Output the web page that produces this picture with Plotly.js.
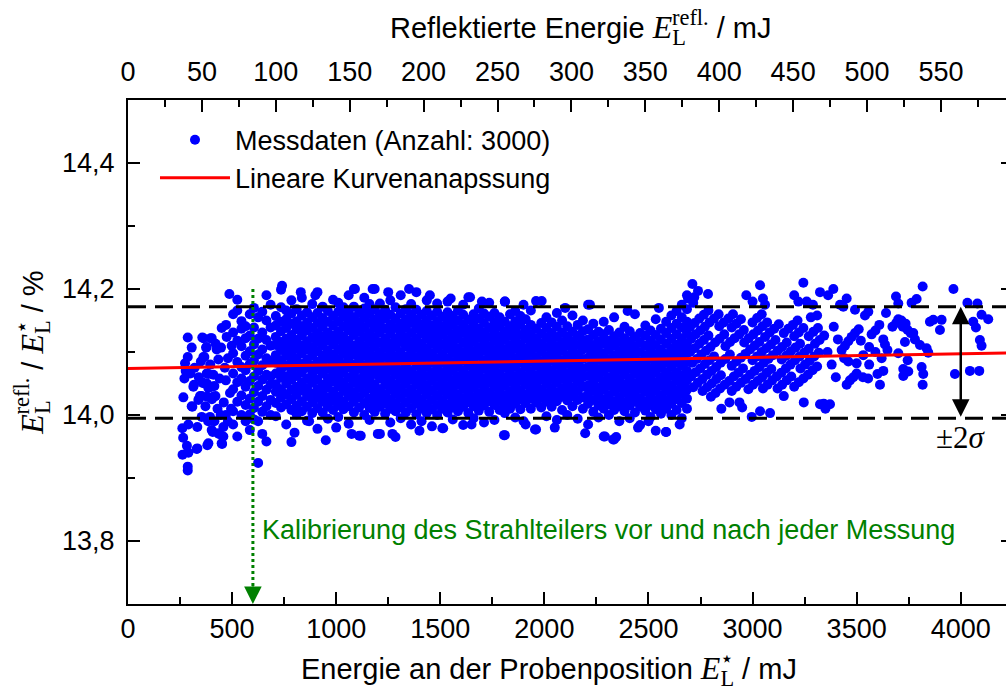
<!DOCTYPE html>
<html>
<head>
<meta charset="utf-8">
<script src="https://cdn.plot.ly/plotly-3.0.1.min.js"></script>
<style>html,body{margin:0;padding:0;overflow:hidden;background:#fff}</style>
</head>
<body>
<div id="chart" style="width:1020px;height:691px"></div>
<script>
// ---------- data ----------
const seriesName = 'Messdaten (Anzahl: 3000)';
const fitName = 'Lineare Kurvenanapssung';

// sparse left part, E* = 250..500 mJ  [E*, ratio %]
const leftPoints = [
 [262,13.937],[265,13.964],[266,14.028],[271,14.058],[274,14.082],[277,14.07],[261,13.979],[283,13.951],
 [287,13.918],[287,13.912],[287,14.092],[287,14.123],[290,13.94],[290,13.985],[306,14.107],[306,14.014],
 [309,14.013],[314,14.045],[317,14.048],[330,13.946],[333,13.981],[333,13.947],[338,14.024],[346,14.03],
 [354,13.997],[354,14.03],[357,14.123],[359,14.051],[362,14.092],[362,14.122],[367,14.05],[367,14.092],
 [372,14.014],[375,14.107],[378,14.066],[378,14.108],[379,14.05],[381,13.952],[381,14.029],[385,13.99],
 [386,13.955],[386,14.043],[386,14.065],[394,13.997],[397,14.122],[402,13.976],[402,14.122],[403,14.025],
 [404,14.045],[407,13.973],[410,14.029],[410,14.064],[415,13.99],[415,14.046],[421,14.113],[426,14.104],
 [434,14.088],[434,13.971],[437,13.97],[447,14.107],[450,13.955],[450,14.138],[452,13.954],[458,13.981],
 [458,13.966],[460,14.02],[465,14.075],[470,14.055],[471,14.143],[474,14.124],[480,14.09],[487,14.192],
 [490,14.035],[495,14.01],[498,14.11],[300,14.066],[320,14.075],[340,14.06],[350,14.085],[395,14.08],
 [420,14.03],[440,14.058],[445,14.0],[430,14.01],[470,14.0],[480,13.99]
];

// dense part, E* = 500..2700 mJ : [E*, [ratio values]]
const denseColumns = [
 [505,[13.985,14.006,14.041,14.066,14.098,14.131,14.16]],
 [525,[13.966,14.021,14.052,14.084,14.118,14.166,14.183]],
 [545,[14.0,14.031,14.058,14.076,14.109,14.137,14.149]],
 [565,[13.99,14.016,14.045,14.071,14.094,14.122,14.141]],
 [585,[13.976,14.001,14.026,14.054,14.081,14.101,14.126,14.16]],
 [605,[13.993,14.011,14.036,14.061,14.086,14.112,14.139,14.17]],
 [625,[13.924,13.99,14.021,14.046,14.07,14.096,14.121,14.155]],
 [645,[13.97,14.005,14.03,14.056,14.079,14.104,14.131,14.164]],
 [665,[13.958,14.014,14.04,14.064,14.09,14.119,14.15,14.19]],
 [685,[14.0,14.024,14.049,14.061,14.085,14.11,14.139,14.175]],
 [710,[13.998,14.019,14.037,14.049,14.066,14.083,14.095,14.111,14.124,14.142,14.157]],
 [735,[14.012,14.028,14.041,14.059,14.072,14.087,14.103,14.116,14.133,14.148,14.171,14.199]],
 [760,[13.985,14.017,14.033,14.05,14.061,14.078,14.094,14.107,14.121,14.138,14.152,14.166]],
 [785,[13.957,14.008,14.025,14.04,14.056,14.069,14.086,14.099,14.114,14.127,14.145,14.161,14.182]],
 [810,[14.001,14.015,14.032,14.045,14.062,14.077,14.09,14.105,14.119,14.136,14.149,14.168]],
 [835,[14.006,14.022,14.039,14.052,14.068,14.081,14.098,14.11,14.126,14.141,14.158,14.186]],
 [860,[13.991,14.013,14.03,14.043,14.058,14.075,14.088,14.104,14.117,14.134,14.147,14.163]],
 [885,[14.003,14.02,14.034,14.051,14.065,14.079,14.095,14.108,14.123,14.138,14.155,14.176]],
 [910,[13.978,14.011,14.027,14.041,14.056,14.072,14.085,14.101,14.116,14.13,14.146,14.162,14.195]],
 [935,[14.004,14.021,14.035,14.048,14.066,14.08,14.094,14.11,14.125,14.14,14.154,14.172]],
 [960,[13.994,14.013,14.028,14.044,14.058,14.073,14.089,14.102,14.118,14.131,14.148,14.165]],
 [985,[14.008,14.023,14.037,14.053,14.067,14.082,14.096,14.112,14.126,14.142,14.157,14.183]],
 [1010,[13.997,14.015,14.029,14.045,14.06,14.074,14.089,14.104,14.119,14.133,14.149,14.164,14.178]],
 [1035,[14.009,14.022,14.038,14.052,14.067,14.081,14.097,14.111,14.125,14.141,14.156,14.171]],
 [1060,[13.986,14.014,14.03,14.044,14.059,14.075,14.09,14.103,14.118,14.134,14.148,14.163,14.19]],
 [1085,[14.004,14.021,14.036,14.051,14.066,14.08,14.096,14.11,14.127,14.14,14.155,14.172,14.2]],
 [1110,[13.967,14.012,14.028,14.043,14.057,14.073,14.088,14.102,14.117,14.132,14.147,14.162]],
 [1135,[14.0,14.019,14.035,14.05,14.064,14.079,14.094,14.109,14.124,14.139,14.154,14.169,14.186]],
 [1160,[13.992,14.011,14.026,14.042,14.056,14.071,14.086,14.101,14.116,14.13,14.146,14.161,14.176]],
 [1185,[14.005,14.02,14.034,14.049,14.065,14.078,14.093,14.108,14.123,14.138,14.152,14.168,14.2]],
 [1210,[13.97,14.013,14.027,14.041,14.058,14.072,14.087,14.1,14.115,14.131,14.145,14.16,14.177]],
 [1235,[14.002,14.018,14.033,14.048,14.063,14.077,14.092,14.107,14.121,14.137,14.153,14.167]],
 [1260,[13.988,14.01,14.025,14.04,14.055,14.07,14.085,14.099,14.114,14.129,14.144,14.159,14.182]],
 [1285,[13.965,14.006,14.019,14.034,14.049,14.064,14.078,14.093,14.108,14.122,14.138,14.153,14.171]],
 [1310,[13.995,14.012,14.027,14.042,14.057,14.071,14.086,14.1,14.116,14.13,14.145,14.161,14.19]],
 [1335,[14.004,14.02,14.035,14.05,14.064,14.079,14.093,14.109,14.123,14.138,14.152,14.168]],
 [1360,[13.985,14.011,14.026,14.041,14.056,14.07,14.086,14.101,14.115,14.13,14.146,14.16,14.176]],
 [1385,[14.001,14.018,14.033,14.048,14.063,14.078,14.092,14.107,14.122,14.137,14.151,14.167,14.195]],
 [1410,[13.99,14.01,14.025,14.04,14.055,14.069,14.084,14.099,14.113,14.129,14.144,14.159]],
 [1435,[14.003,14.017,14.032,14.047,14.062,14.077,14.092,14.106,14.121,14.136,14.15,14.165,14.182]],
 [1460,[13.982,14.009,14.024,14.039,14.054,14.068,14.083,14.098,14.113,14.128,14.142,14.158]],
 [1485,[14.0,14.016,14.031,14.046,14.061,14.075,14.09,14.105,14.12,14.134,14.149,14.164,14.177]],
 [1510,[13.979,14.01,14.024,14.039,14.053,14.068,14.083,14.097,14.112,14.127,14.141,14.156]],
 [1535,[14.004,14.017,14.032,14.046,14.061,14.075,14.09,14.105,14.119,14.134,14.148,14.163,14.18]],
 [1560,[13.993,14.012,14.026,14.041,14.055,14.07,14.084,14.099,14.114,14.128,14.143,14.157]],
 [1585,[14.006,14.019,14.033,14.048,14.062,14.077,14.092,14.106,14.121,14.135,14.15,14.166]],
 [1610,[13.984,14.013,14.027,14.042,14.056,14.071,14.086,14.1,14.115,14.13,14.144,14.159,14.175]],
 [1635,[14.003,14.02,14.034,14.049,14.063,14.078,14.093,14.107,14.122,14.136,14.151,14.187]],
 [1660,[13.995,14.014,14.028,14.043,14.057,14.072,14.086,14.101,14.116,14.13,14.145,14.16]],
 [1685,[14.007,14.021,14.035,14.05,14.064,14.079,14.094,14.108,14.123,14.137,14.153,14.169]],
 [1710,[13.988,14.015,14.029,14.044,14.058,14.073,14.087,14.102,14.117,14.131,14.146,14.161]],
 [1735,[14.005,14.022,14.036,14.051,14.065,14.08,14.095,14.109,14.124,14.139,14.156,14.178]],
 [1760,[13.992,14.016,14.03,14.045,14.059,14.074,14.089,14.103,14.118,14.132,14.147,14.162]],
 [1785,[14.008,14.023,14.037,14.052,14.066,14.081,14.096,14.11,14.125,14.14,14.155]],
 [1810,[13.968,14.003,14.017,14.031,14.046,14.06,14.075,14.09,14.104,14.119,14.133,14.148,14.18]],
 [1835,[14.01,14.024,14.038,14.053,14.067,14.082,14.097,14.111,14.126,14.141,14.16]],
 [1860,[13.996,14.018,14.032,14.047,14.061,14.076,14.09,14.105,14.12,14.134,14.149,14.165]],
 [1885,[14.009,14.025,14.039,14.054,14.068,14.083,14.098,14.112,14.127,14.143,14.157]],
 [1910,[13.985,14.019,14.033,14.048,14.062,14.077,14.091,14.106,14.121,14.135,14.152]],
 [1935,[14.01,14.026,14.04,14.055,14.069,14.084,14.099,14.113,14.128,14.143,14.166]],
 [1960,[13.977,14.02,14.034,14.049,14.063,14.078,14.092,14.107,14.122,14.137,14.181]],
 [1985,[14.012,14.027,14.041,14.056,14.07,14.085,14.1,14.114,14.129,14.146]],
 [2010,[13.998,14.021,14.035,14.05,14.064,14.079,14.093,14.108,14.123,14.138,14.155]],
 [2035,[14.013,14.028,14.042,14.057,14.071,14.086,14.101,14.115,14.13,14.147]],
 [2060,[13.992,14.022,14.036,14.051,14.065,14.08,14.094,14.109,14.124,14.14,14.162]],
 [2085,[14.008,14.029,14.043,14.058,14.072,14.087,14.102,14.116,14.131,14.15]],
 [2110,[14.0,14.023,14.037,14.052,14.066,14.081,14.095,14.11,14.125,14.141]],
 [2135,[14.014,14.03,14.044,14.059,14.073,14.088,14.103,14.117,14.132,14.158]],
 [2160,[13.994,14.024,14.038,14.053,14.067,14.082,14.096,14.111,14.126,14.143]],
 [2185,[14.01,14.028,14.045,14.06,14.074,14.089,14.104,14.118,14.133,14.15]],
 [2210,[13.985,14.018,14.033,14.047,14.062,14.076,14.091,14.106,14.12,14.136,14.175]],
 [2235,[14.005,14.024,14.039,14.053,14.068,14.082,14.097,14.111,14.127,14.145]],
 [2260,[13.996,14.015,14.03,14.044,14.059,14.073,14.088,14.102,14.117,14.132]],
 [2285,[13.966,14.01,14.025,14.04,14.054,14.069,14.083,14.098,14.113,14.128,14.148]],
 [2310,[14.0,14.017,14.031,14.046,14.06,14.075,14.089,14.104,14.118,14.135]],
 [2335,[13.961,14.008,14.022,14.037,14.051,14.066,14.08,14.095,14.11,14.125,14.155]],
 [2360,[13.99,14.014,14.028,14.043,14.057,14.072,14.086,14.101,14.116,14.131]],
 [2385,[14.006,14.02,14.035,14.049,14.064,14.078,14.093,14.107,14.122,14.14]],
 [2410,[13.995,14.015,14.029,14.044,14.058,14.073,14.088,14.102,14.117,14.133]],
 [2435,[14.004,14.021,14.036,14.05,14.065,14.079,14.094,14.109,14.124,14.16]],
 [2460,[13.984,14.013,14.027,14.042,14.056,14.071,14.085,14.1,14.115,14.13]],
 [2485,[14.007,14.022,14.037,14.051,14.066,14.08,14.095,14.11,14.126,14.142]],
 [2510,[13.997,14.016,14.03,14.045,14.059,14.074,14.089,14.103,14.118,14.134]],
 [2535,[13.975,14.009,14.023,14.038,14.052,14.067,14.082,14.096,14.111,14.127,14.152]],
 [2560,[14.002,14.017,14.031,14.046,14.06,14.075,14.09,14.104,14.12,14.137]],
 [2585,[13.973,14.01,14.024,14.039,14.053,14.068,14.083,14.097,14.113,14.13,14.148]],
 [2610,[14.0,14.018,14.033,14.047,14.062,14.077,14.091,14.106,14.121,14.138,14.158]],
 [2635,[14.008,14.025,14.039,14.054,14.068,14.083,14.098,14.112,14.128,14.145,14.165]],
 [2660,[13.995,14.019,14.034,14.048,14.063,14.078,14.092,14.107,14.122,14.139,14.155,14.175]],
 [2685,[14.01,14.026,14.04,14.055,14.07,14.084,14.099,14.113,14.13,14.148,14.168,14.19]]
];

// striped part, E* = 2700..3450 mJ
const stripePoints = [
 [2700,14.14],[2722,14.146],[2744,14.153],[2766,14.159],[2788,14.166],
 [2705,14.121],[2727,14.128],[2749,14.134],[2771,14.14],[2793,14.147],[2815,14.153],[2837,14.16],
 [2700,14.1],[2722,14.106],[2744,14.113],[2766,14.119],[2788,14.126],[2840,14.141],[2862,14.147],[2884,14.153],[2906,14.16],
 [2710,14.083],[2732,14.089],[2754,14.096],[2776,14.102],[2798,14.108],[2820,14.115],[2842,14.121],[2864,14.128],
 [2705,14.061],[2727,14.068],[2749,14.074],[2771,14.081],[2793,14.087],[2815,14.093],[2870,14.109],[2892,14.116],[2914,14.122],[2936,14.128],[2958,14.135],
 [2715,14.044],[2737,14.051],[2759,14.057],[2781,14.064],[2803,14.07],[2825,14.076],[2847,14.083],[2869,14.089],[2891,14.096],
 [2760,14.038],[2782,14.044],[2804,14.05],[2826,14.057],[2848,14.063],[2900,14.078],[2922,14.085],[2944,14.091],[2966,14.097],[2988,14.104],[3010,14.11],[3032,14.116],
 [2800,14.029],[2822,14.035],[2844,14.042],[2866,14.048],[2888,14.054],[2910,14.061],[2932,14.067],[2954,14.074],
 [3000,14.087],[3022,14.093],[3044,14.1],[3066,14.106],[3088,14.112],[3110,14.119],
 [2900,14.038],[2922,14.045],[2944,14.051],[2966,14.057],[2988,14.064],[3010,14.07],[3032,14.076],[3054,14.083],[3076,14.089],[3098,14.095],[3120,14.102],[3142,14.108],[3164,14.115],
 [2980,14.041],[3002,14.048],[3024,14.054],[3046,14.06],[3068,14.067],[3090,14.073],[3140,14.088],[3162,14.094],[3184,14.101],[3206,14.107],[3228,14.113],
 [3050,14.042],[3072,14.048],[3094,14.055],[3116,14.061],[3138,14.067],[3160,14.074],[3182,14.08],[3204,14.087],[3226,14.093],[3248,14.099],[3270,14.105],
 [3120,14.042],[3142,14.048],[3164,14.055],[3186,14.061],[3230,14.074],[3252,14.08],[3274,14.086],[3296,14.093],[3318,14.099],
 [3200,14.045],[3222,14.052],[3244,14.058],[3266,14.064],[3288,14.071],[3310,14.077],
 [3060,14.124],[3082,14.131],[3104,14.137],[3126,14.144],[3200,14.125],[3222,14.131],[3244,14.138],
 [3150,14.13],[3172,14.137],[3194,14.143],[3216,14.15],[3270,14.125],[3292,14.132],[3314,14.138],
 [2960,14.115],[2982,14.122],[3004,14.128],[3026,14.134],[3048,14.141],[3070,14.147],
 [3000,14.147],[3022,14.154],[3044,14.16],[2900,14.139],[2922,14.145],[2944,14.152],
 [3300,14.113],[3322,14.119],[3344,14.126]
];

// sparse right part, E* = 3400..4150 mJ
const rightPoints = [
 [3420,14.175],[3436,14.172],[3452,14.185],[3492,14.167],[3428,14.103],[3444,14.11],[3460,14.117],[3476,14.124],
 [3492,14.13],[3510,14.136],[3540,14.158],[3556,14.164],[3572,14.128],[3590,14.134],[3609,14.143],[3641,14.162],
 [3452,14.048],[3468,14.055],[3484,14.06],[3500,14.066],[3440,14.09],[3460,14.085],[3500,14.082],[3532,14.095],
 [3560,14.08],[3590,14.1],[3530,14.06],[3555,14.058],[3600,14.065],[3628,14.12],[3636,14.112],[3620,14.09],
 [3648,14.103],[3612,14.048],[3628,14.07],[3560,14.108],[3520,14.118],
 [3689,14.188],[3700,14.177],[3764,14.178],[3788,14.184],[3817,14.204],[3965,14.2],[4032,14.178],[4080,14.177],
 [3672,14.14],[3690,14.146],[3700,14.152],[3715,14.15],[3722,14.14],[3735,14.145],[3745,14.135],[3760,14.13],
 [3772,14.13],[3852,14.148],[3868,14.151],[3900,14.135],[3908,14.151],[4100,14.159],[4132,14.152],[4060,14.148],
 [4073,14.139],[4092,14.119],[4100,14.11],[4044,14.07],[4089,14.07],[3972,14.065],[3732,14.116],[3804,14.111],
 [3836,14.106],[3844,14.099],[3700,14.098],[3745,14.087],[3724,14.073],[3748,14.069],[3724,14.062],[3812,14.076],
 [3820,14.065],[3817,14.048],[3780,14.12]
];

// isolated points above / below the cloud
const outlierPoints = [
 [2711,14.208],[2738,14.197],[2786,14.192],[2720,14.187],[2715,14.178],[3036,14.206],[3244,14.21],[3388,14.2],
 [3363,14.19],[2970,14.19],[3000,14.18],[3050,14.185],[3060,14.175],[3200,14.19],[3220,14.18],[3324,14.195],
 [3260,14.18],[3290,14.175],[3310,14.158],[3280,14.155],[2996,13.997],[3036,14.006],[3084,14.003],[2889,14.02],
 [2937,14.02],[3246,14.02],[3342,14.018],[3350,14.01],[3324,14.017],[3372,14.017],[2850,14.01],[2950,14.012],
 [3150,14.03],[3400,14.06],[3380,14.08],[3360,14.1],[3390,14.14],[3410,14.12],
 [1118,13.967],[1074,13.97],[1200,13.97],[1270,13.97],[1514,13.979],[1806,13.968],[1955,13.977],[2196,13.971],
 [2291,13.966],[2330,13.961],[2345,13.965],[2584,13.973],[1400,13.975],[1650,13.985],[1900,13.99],[2050,13.98],
 [2450,13.98],[2500,13.99],[2650,13.985],[1000,13.98],[950,13.96],[800,13.972],[870,13.99],
 [1090,14.2],[1175,14.2],[1643,14.187],[1811,14.18],[1987,14.181],[2219,14.175],[2690,14.185],[740,14.205],
 [830,14.195],[900,14.19],[1250,14.195],[1350,14.2],[1450,14.19],[1550,14.185],[1700,14.18],[1900,14.175],
 [2100,14.17],[2400,14.165],[2550,14.17]
];

// linear fit
const fitX = [0, 4251];
const fitY = [14.074, 14.0987];
// +/- 2 sigma limits
const sigmaLimits = [13.995, 14.172];
// calibration marker
const calibX = 600, calibTop = 14.2;
const sigmaArrowX = 4000;
const calibText = 'Kalibrierung des Strahlteilers vor und nach jeder Messung';
const sigmaText = '±2<i>σ</i>';
// axis ranges
const xRange = [0, 4251];
const ratioReflToStar = 0.14085;   // top axis = bottom axis * ratio
const yRange = [13.7, 14.5];

// ---------- build ----------
const px = [], py = [];
function addPair(p){ px.push(p[0]); py.push(p[1]); }
leftPoints.forEach(addPair);
denseColumns.forEach(c => c[1].forEach(v => { px.push(c[0]); py.push(v); }));
stripePoints.forEach(addPair);
rightPoints.forEach(addPair);
outlierPoints.forEach(addPair);

const SANS = 'Liberation Sans, Arial, sans-serif';
const SERIF = "'Liberation Serif'";
// E with stacked sub-/superscript (subscript L pulled back under the superscript)
const mathE = (sup) => `<span style="font-family:${SERIF};font-size:32px"><i>E</i><sub><span style="letter-spacing:-14px">L</span></sub><sup>${sup}</sup></span>`;

const traces = [
 {x: px, y: py, type: 'scatter', mode: 'markers', name: seriesName,
  marker: {color: '#0000ff', size: 10, line: {width: 0}}, hoverinfo: 'skip'},
 {x: fitX, y: fitY, type: 'scatter', mode: 'lines', name: fitName,
  line: {color: '#ff0000', width: 3}, hoverinfo: 'skip'},
 // carrier for the top (reflected energy) axis, draws nothing
 {x: [xRange[0] * ratioReflToStar], y: [null], xaxis: 'x2', yaxis: 'y', type: 'scatter', mode: 'markers',
  showlegend: false, hoverinfo: 'skip'}
];

const tickFont = {family: SANS, size: 27, color: '#000'};
const titleFont = {family: SANS, size: 29, color: '#000'};
const commonAxis = {
 showline: true, linecolor: '#000', linewidth: 2, showgrid: false, zeroline: false,
 ticks: 'inside', ticklen: 12, tickwidth: 2, tickcolor: '#000', tickfont: tickFont
};

const layout = {
 width: 1020, height: 691,
 margin: {l: 128, r: 7, t: 100, b: 87},
 paper_bgcolor: '#fff', plot_bgcolor: '#fff',
 separators: ',.',
 font: {family: SANS, size: 27, color: '#000'},
 showlegend: true,
 legend: {x: 0.0305, y: 0.969, xanchor: 'left', yanchor: 'top', bgcolor: 'rgba(0,0,0,0)', itemwidth: 70,
          font: {family: SANS, size: 27, color: '#000'}},
 xaxis: Object.assign({}, commonAxis, {
   range: xRange, dtick: 500, tick0: 0, mirror: false,
   minor: {ticks: 'inside', ticklen: 7, tickwidth: 2, dtick: 250, tickcolor: '#000'}
 }),
 xaxis2: Object.assign({}, commonAxis, {
   overlaying: 'x', side: 'top', anchor: 'y',
   range: [xRange[0] * ratioReflToStar, xRange[1] * ratioReflToStar], dtick: 50, tick0: 0,
   ticklabelstandoff: 6,
   minor: {ticks: 'inside', ticklen: 7, tickwidth: 2, dtick: 25, tickcolor: '#000'}
 }),
 yaxis: Object.assign({}, commonAxis, {
   range: yRange, dtick: 0.2, tick0: 13.8, tickformat: '.1f', mirror: 'ticks',
   minor: {ticks: 'inside', ticklen: 7, tickwidth: 2, dtick: 0.1, tickcolor: '#000'},
   ticklabelstandoff: 6,
   title: {text: mathE('refl.') + ' / ' + mathE('⋆') + ' / %', font: titleFont, standoff: 10}
 }),
 shapes: [
  ...sigmaLimits.map(v => ({type: 'line', xref: 'paper', x0: 0, x1: 1, yref: 'y', y0: v, y1: v,
     line: {color: '#000', width: 3, dash: '18px,9px'}, layer: 'above'})),
  {type: 'line', xref: 'x', x0: calibX, x1: calibX, yref: 'y', y0: calibTop, y1: yRange[0] + 0.02,
     line: {color: '#008000', width: 3, dash: 'dot'}, layer: 'above'}
 ],
 annotations: [
  // axis titles
  {xref: 'paper', yref: 'paper', x: 0.4757, y: -0.123, xanchor: 'center', yanchor: 'middle', showarrow: false,
   text: 'Energie an der Probenposition ' + mathE('⋆') + ' / mJ', font: titleFont},
  {xref: 'paper', yref: 'paper', x: 0.512, y: 1.149, xanchor: 'center', yanchor: 'middle', showarrow: false,
   text: 'Reflektierte Energie ' + mathE('refl.') + ' / mJ', font: titleFont},
  // calibration arrow head and text
  {x: calibX, y: yRange[0], xref: 'x', yref: 'y', ax: calibX, ay: yRange[0] + 0.03, axref: 'x', ayref: 'y',
   text: '', showarrow: true, arrowhead: 2, arrowsize: 1.6, arrowwidth: 2.2, arrowcolor: '#008000', standoff: 0},
  {x: calibX + 36, y: 13.8175, xref: 'x', yref: 'y', xanchor: 'left', yanchor: 'middle', showarrow: false,
   text: calibText, font: {family: SANS, size: 27, color: '#008000'}},
  // +/- 2 sigma double arrow and label
  {x: sigmaArrowX, y: sigmaLimits[1], xref: 'x', yref: 'y', ax: sigmaArrowX, ay: sigmaLimits[0], axref: 'x', ayref: 'y',
   text: '', showarrow: true, arrowhead: 2, arrowside: 'end+start', arrowsize: 1.4, arrowwidth: 2.5, arrowcolor: '#000',
   standoff: 0, startstandoff: 0},
  {x: sigmaArrowX, y: 13.965, xref: 'x', yref: 'y', xanchor: 'center', yanchor: 'middle', showarrow: false,
   text: sigmaText, font: {family: SERIF, size: 31, color: '#000'}}
 ]
};

Plotly.newPlot('chart', traces, layout, {displayModeBar: false, staticPlot: true});
</script>
</body>
</html>
